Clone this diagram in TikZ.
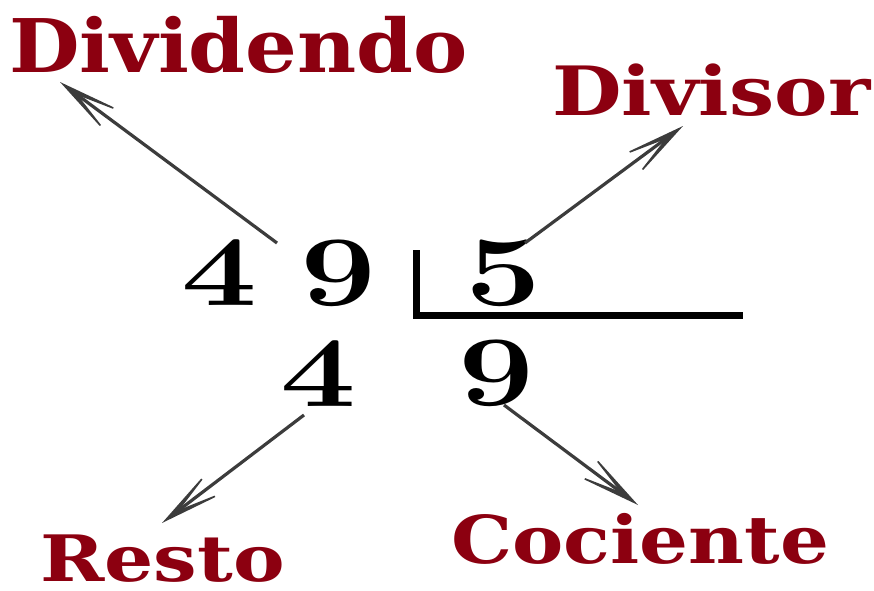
\documentclass[tikz,border=0pt]{standalone}
\usepackage{fontspec}
\newfontfamily\labfont{DejaVu Serif}
\usetikzlibrary{arrows.meta}
\definecolor{lab}{RGB}{140,0,16}
\definecolor{arr}{RGB}{60,60,60}
\begin{document}
\begin{tikzpicture}[x=1pt,y=-1pt,
  lbl/.style={inner sep=0,anchor=base west,text=lab},
  dig/.style={inner sep=0,anchor=base west,font=\bfseries\fontsize{100}{100}\selectfont},
  con/.style={draw=arr,line width=3.2pt,-{Stealth[length=80pt,width=32pt,inset=58pt,line width=1.6pt]}},
  bar/.style={draw=black,line width=7pt,miter limit=10}]
\useasboundingbox (0,0) rectangle (874,590);
% labels
\node[lbl] (dividendo) at (9,72) {\labfont\bfseries\fontsize{74}{74}\selectfont\scalebox{1.10}[1]{Dividendo}};
\node[lbl] (divisor) at (552,115) {\labfont\bfseries\fontsize{68}{68}\selectfont\scalebox{1.18}[1]{Divisor}};
\node[lbl] (resto) at (40,581) {\labfont\bfseries\fontsize{64}{64}\selectfont\scalebox{1.21}[1]{Resto}};
\node[lbl] (cociente) at (451,563) {\labfont\bfseries\fontsize{66}{66}\selectfont\scalebox{1.165}[1]{Cociente}};
% digits
\node[dig] (t4) at (181,305) {\scalebox{1.35}[1]{4}};
\node[dig] (t9) at (300,305) {\scalebox{1.35}[1]{9}};
\node[dig] (t5) at (465,305) {\scalebox{1.35}[1]{5}};
\node[dig] (b4) at (280,406) {\scalebox{1.35}[1]{4}};
\node[dig] (b9) at (458,405) {\scalebox{1.35}[1]{9}};
% division bracket
\coordinate (bt) at (416,250);
\coordinate (bc) at (416,315.5);
\coordinate (be) at (743,315.5);
\draw[bar] (bt) -- (bc) -- (be);
% arrow ends
\coordinate (s1) at (277,243); \coordinate (e1) at (60,82);
\coordinate (s2) at (525,243); \coordinate (e2) at (683,126);
\coordinate (s3) at (304,415); \coordinate (e3) at (162,523);
\coordinate (s4) at (504,405); \coordinate (e4) at (638,505);
\draw[con] (s1) -- (e1);
\draw[con] (s2) -- (e2);
\draw[con] (s3) -- (e3);
\draw[con] (s4) -- (e4);
\end{tikzpicture}
\end{document}
